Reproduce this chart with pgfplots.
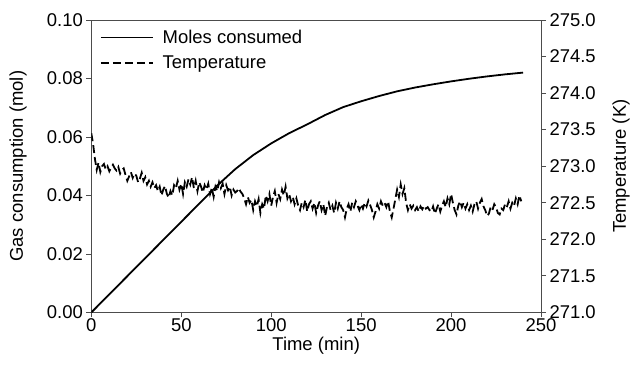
\documentclass[border=0pt]{standalone}
\usepackage{pgfplots}
\pgfplotsset{compat=1.18}
\usepackage{pgfplotstable}
\usepackage{fontspec}
\setmainfont{Liberation Sans}

\pgfplotstableread{
t m
0 0
10 0.0062
20 0.0124
30 0.0186
40 0.0248
50 0.0310
60 0.0372
70 0.0434
80 0.0490
90 0.0538
100 0.0578
110 0.0613
120 0.0643
130 0.0675
140 0.0702
150 0.0722
160 0.0740
170 0.0756
180 0.0769
190 0.0780
200 0.0790
210 0.0799
220 0.0807
230 0.0814
240 0.0820
}\moles

\pgfplotstableread{
t T
0 273.45
1 273.30
2 273.10
3 272.95
4 273.05
5 272.92
6 273.00
7 273.03
8 272.96
9 273.00
10 272.93
11 272.98
12 273.02
13 272.97
14 272.94
15 272.99
16 272.90
17 272.95
18 272.97
19 272.88
20 272.80
21 272.86
22 272.92
23 272.84
24 272.90
25 272.87
26 272.78
27 272.83
28 272.91
29 272.80
30 272.85
31 272.75
32 272.80
33 272.72
34 272.78
35 272.70
36 272.74
37 272.66
38 272.72
39 272.60
40 272.68
41 272.73
42 272.62
43 272.57
44 272.66
45 272.60
46 272.74
47 272.70
48 272.80
49 272.68
50 272.76
51 272.62
52 272.78
53 272.72
54 272.82
55 272.75
56 272.85
57 272.70
58 272.80
59 272.66
60 272.78
61 272.72
62 272.64
63 272.74
64 272.68
65 272.76
66 272.62
67 272.70
68 272.58
69 272.72
70 272.66
71 272.78
72 272.70
73 272.76
74 272.62
75 272.74
76 272.67
77 272.72
78 272.60
79 272.68
80 272.64
81 272.66
82 272.70
83 272.65
84 272.62
85 272.56
86 272.48
87 272.58
88 272.50
89 272.54
90 272.40
91 272.52
92 272.45
93 272.55
94 272.36
95 272.48
96 272.42
97 272.60
98 272.52
99 272.62
100 272.46
101 272.58
102 272.66
103 272.50
104 272.62
105 272.55
106 272.68
107 272.60
108 272.72
109 272.56
110 272.62
111 272.52
112 272.58
113 272.48
114 272.56
115 272.46
116 272.40
117 272.50
118 272.44
119 272.54
120 272.38
121 272.48
122 272.52
123 272.42
124 272.50
125 272.36
126 272.46
127 272.52
128 272.40
129 272.48
130 272.32
131 272.44
132 272.50
133 272.40
134 272.46
135 272.36
136 272.50
137 272.42
138 272.52
139 272.44
140 272.40
141 272.30
142 272.42
143 272.48
144 272.38
145 272.50
146 272.44
147 272.52
148 272.46
149 272.40
150 272.48
151 272.42
152 272.50
153 272.45
154 272.53
155 272.47
156 272.40
157 272.30
158 272.38
159 272.48
160 272.42
161 272.52
162 272.46
163 272.50
164 272.44
165 272.52
166 272.38
167 272.30
168 272.42
169 272.55
170 272.68
171 272.58
172 272.75
173 272.62
174 272.70
175 272.50
176 272.40
177 272.48
178 272.42
179 272.46
180 272.40
181 272.44
182 272.38
183 272.45
184 272.41
185 272.46
186 272.42
187 272.44
188 272.40
189 272.38
190 272.45
191 272.35
192 272.42
193 272.48
194 272.38
195 272.46
196 272.52
197 272.44
198 272.56
199 272.48
200 272.62
201 272.50
202 272.40
203 272.34
204 272.46
205 272.52
206 272.44
207 272.50
208 272.42
209 272.48
210 272.40
211 272.46
212 272.38
213 272.48
214 272.52
215 272.42
216 272.50
217 272.55
218 272.45
219 272.40
220 272.32
221 272.35
222 272.44
223 272.40
224 272.48
225 272.44
226 272.36
227 272.34
228 272.42
229 272.40
230 272.48
231 272.44
232 272.52
233 272.42
234 272.50
235 272.46
236 272.56
237 272.48
238 272.60
239 272.52
}\temps

\tikzset{myfont/.style={font=\fontsize{18.5}{21.5}\selectfont}}
\pgfplotsset{
  common/.style={
    scale only axis,
    width=450.5pt, height=293pt,
    xmin=0, xmax=250,
    tick align=outside,
    major tick length=5pt,
    every tick/.style={black!70, line width=0.8pt},
    axis line style={black!70, line width=0.9pt},
    tick label style={myfont},
    label style={myfont},
    /pgf/number format/assume math mode=true,
  },
}

\begin{document}
\begin{tikzpicture}
\begin{axis}[common, name=main,
  ymin=0, ymax=0.10,
  xtick={0,50,...,250},
  ytick={0,0.02,...,0.10},
  xtick pos=bottom, ytick pos=left,
  yticklabel style={/pgf/number format/.cd, fixed, fixed zerofill, precision=2},
  xticklabel style={yshift=2pt},
  xlabel={Time (min)},
  ylabel={Gas consumption (mol)},
  xlabel style={at={(axis description cs:0.5,-0.113)}, anchor=center},
  ylabel style={at={(axis description cs:-0.163,0.5)}, anchor=center},
]
\addplot[black, line width=1.8pt] table[x=t, y=m] {\moles};
\end{axis}
\begin{axis}[common,
  ymin=271, ymax=275,
  ytick={271,271.5,...,275},
  axis x line=none,
  axis y line*=right,
  ytick pos=right,
  yticklabel style={/pgf/number format/.cd, fixed, fixed zerofill, precision=1},
  ylabel={Temperature (K)},
  ylabel style={at={(axis description cs:1.178,0.5)}, anchor=center},
  legend style={at={(axis description cs:0.0,1)}, anchor=north west,
    xshift=8.5pt, yshift=-8pt, inner sep=0pt,
    draw=none, fill=none, myfont, row sep=7pt,
    /tikz/every odd column/.append style={column sep=7pt}},
  legend cell align=left,
  legend image code/.code={\draw[#1] (0pt,0pt) -- (52pt,0pt);},
]
\addlegendimage{black, line width=1.8pt}
\addlegendentry{Moles consumed}
\addplot[black, line width=1.8pt, dash pattern=on 8pt off 4pt] table[x=t, y=T] {\temps};
\addlegendentry{Temperature}
\end{axis}
\path ([xshift=-91.5pt,yshift=-54pt]main.south west) rectangle ([xshift=91pt,yshift=20pt]main.north east);
\end{tikzpicture}
\end{document}
